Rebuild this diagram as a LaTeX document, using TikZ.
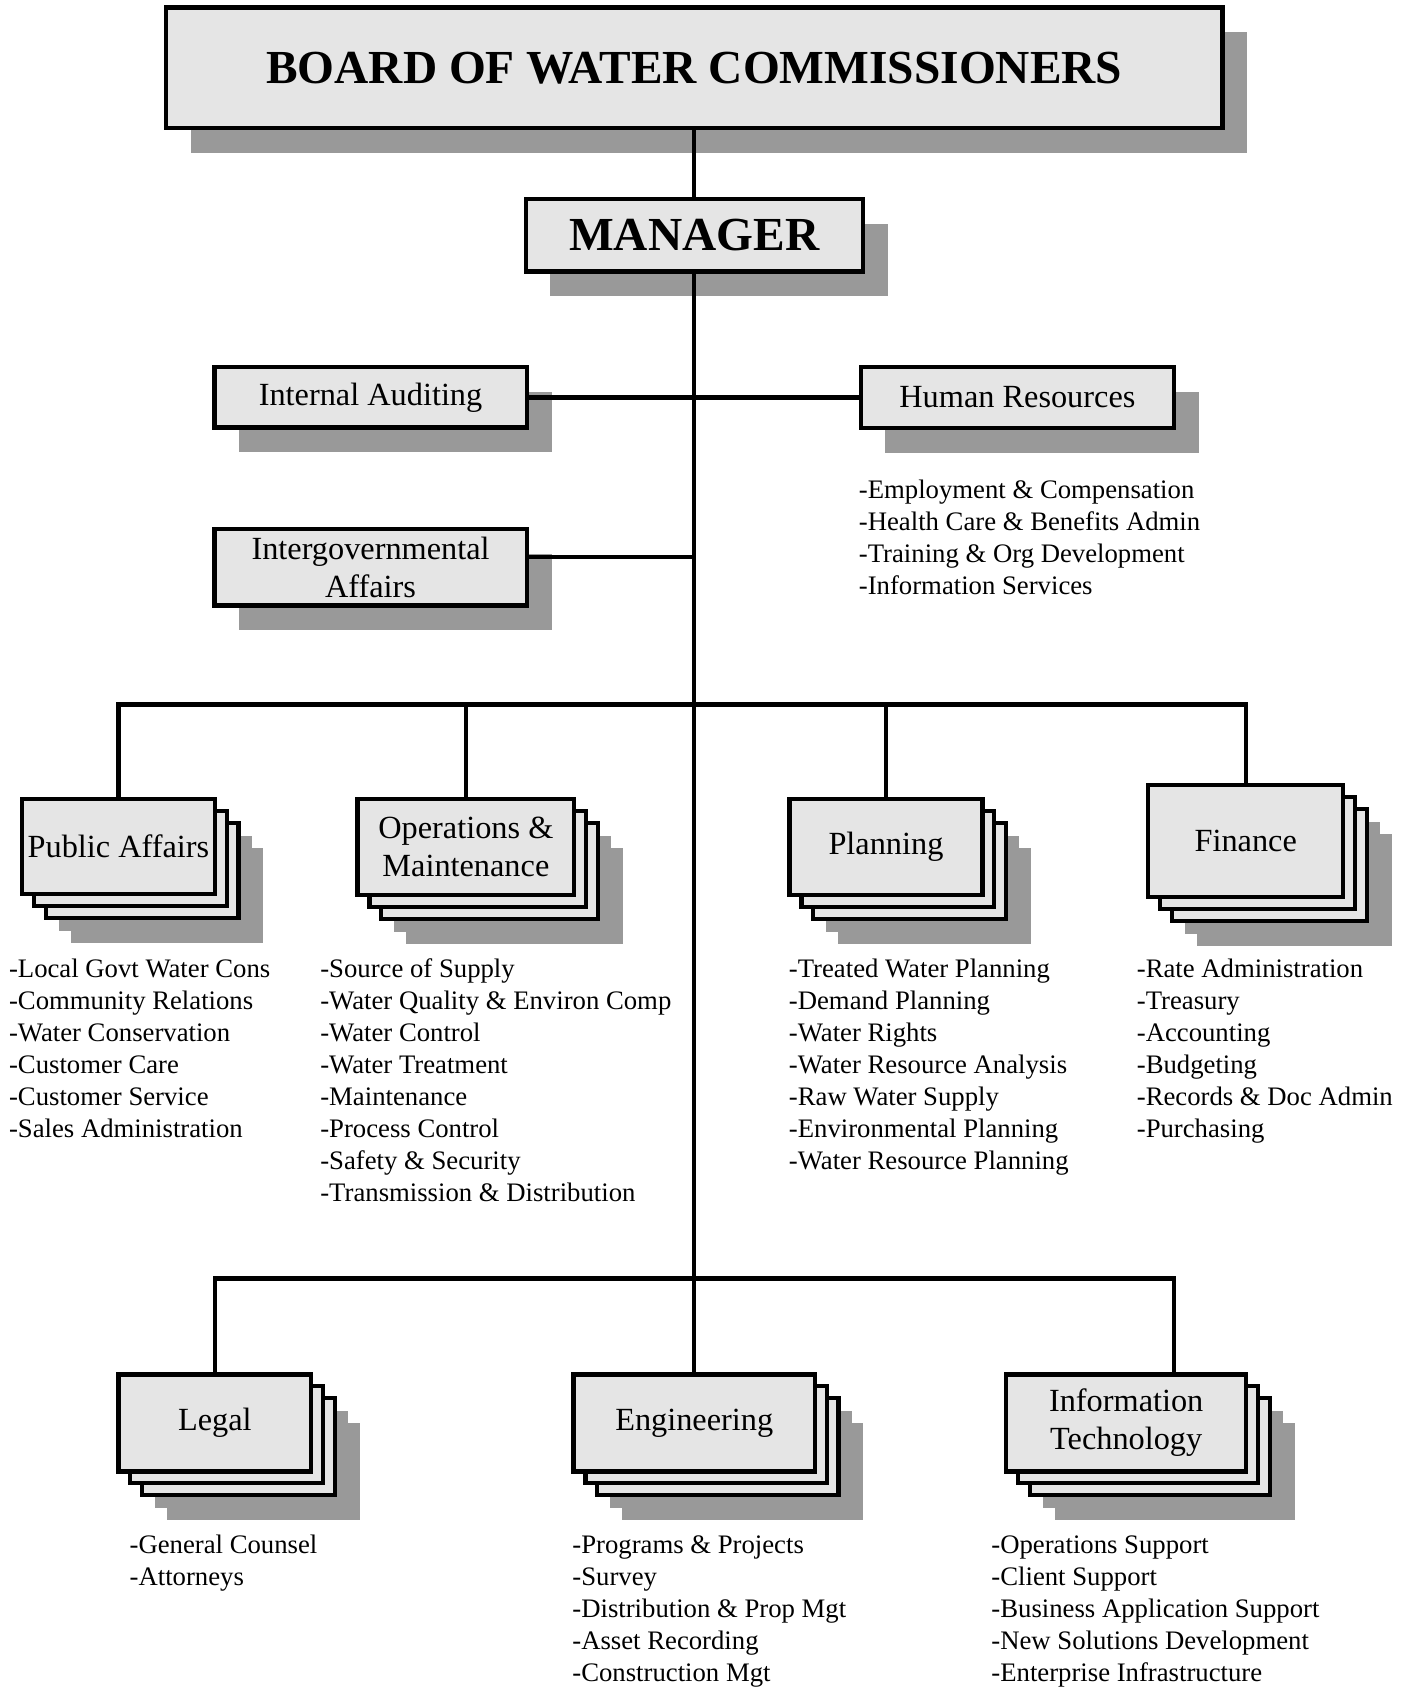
\documentclass[tikz,border=0pt]{standalone}
\usepackage{fontspec}
\setmainfont{Liberation Serif}
\usetikzlibrary{shadows}

\begin{document}
\begin{tikzpicture}[x=0.5pt,y=-0.5pt,
    box/.style={draw,line width=2pt,fill=gray!20,inner sep=1pt,align=center,font=\fontsize{15}{17.5}\selectfont},
    shadowed/.style={box,general shadow={fill=gray!80,draw=none,shadow xshift=11.5pt,shadow yshift=-11.5pt}},
    stack/.style={box,
        general shadow={fill=gray!80,draw=none,shadow xshift=22.5pt,shadow yshift=-22.5pt},
        general shadow={fill=gray!80,draw=none,shadow xshift=17pt,shadow yshift=-17pt},
        general shadow={fill=gray!80,draw=none,shadow xshift=11.5pt,shadow yshift=-11.5pt},
        general shadow={fill=gray!20,draw,line width=2pt,shadow xshift=11pt,shadow yshift=-11pt},
        general shadow={fill=gray!20,draw,line width=2pt,shadow xshift=5.5pt,shadow yshift=-5.5pt}},
    list/.style={anchor=north west,inner sep=0pt,align=left,font=\fontsize{12.4}{14.85}\selectfont},
    link/.style={line width=2pt}]
    \useasboundingbox (0,0) rectangle (1309,1568);

    \node[shadowed,font=\fontsize{22}{26}\selectfont\bfseries,minimum width=490.5pt,minimum height=56pt] (board) at (644.5,63) {BOARD OF WATER COMMISSIONERS};
    \node[shadowed,font=\fontsize{22}{26}\selectfont\bfseries,minimum width=156.5pt,minimum height=33.5pt] (manager) at (644.5,218.5) {MANAGER};

    \node[shadowed,minimum width=145pt,minimum height=28pt] (audit) at (344,369) {Internal Auditing};
    \node[shadowed,minimum width=145.5pt,minimum height=28.5pt] (hr) at (944.5,369) {Human Resources};
    \node[shadowed,minimum width=145pt,minimum height=35.5pt] (intergov) at (344,526.5) {Intergovernmental\\Affairs};

    \node[stack,minimum width=89.5pt,minimum height=44pt] (public) at (110,786) {Public Affairs};
    \node[stack,minimum width=100.5pt,minimum height=44.5pt] (ops) at (432.5,786.5) {Operations \&\\Maintenance};
    \node[stack,minimum width=89.5pt,minimum height=44.5pt] (planning) at (822.5,786.5) {Planning};
    \node[stack,minimum width=90.5pt,minimum height=52pt] (finance) at (1156.5,781) {Finance};
    \node[stack,minimum width=89.5pt,minimum height=45pt] (legal) at (199.5,1321) {Legal};
    \node[stack,minimum width=112pt,minimum height=45pt] (eng) at (644.5,1321) {Engineering};
    \node[stack,minimum width=111.5pt,minimum height=45pt] (it) at (1045.5,1321) {Information\\Technology};

    \node[list] (hrlist) at (797,445) {-Employment \& Compensation\\-Health Care \& Benefits Admin\\-Training \& Org Development\\-Information Services};
    \node[list] (publist) at (8,890) {-Local Govt Water Cons\\-Community Relations\\-Water Conservation\\-Customer Care\\-Customer Service\\-Sales Administration};
    \node[list] (opslist) at (297,890) {-Source of Supply\\-Water Quality \& Environ Comp\\-Water Control\\-Water Treatment\\-Maintenance\\-Process Control\\-Safety \& Security\\-Transmission \& Distribution};
    \node[list] (planlist) at (732,890) {-Treated Water Planning\\-Demand Planning\\-Water Rights\\-Water Resource Analysis\\-Raw Water Supply\\-Environmental Planning\\-Water Resource Planning};
    \node[list] (finlist) at (1055,890) {-Rate Administration\\-Treasury\\-Accounting\\-Budgeting\\-Records \& Doc Admin\\-Purchasing};
    \node[list] (legallist) at (120,1425) {-General Counsel\\-Attorneys};
    \node[list] (englist) at (531,1425) {-Programs \& Projects\\-Survey\\-Distribution \& Prop Mgt\\-Asset Recording\\-Construction Mgt};
    \node[list] (itlist) at (920,1425) {-Operations Support\\-Client Support\\-Business Application Support\\-New Solutions Development\\-Enterprise Infrastructure};

    \coordinate (igjoin) at (644.5,517);
    \coordinate (topbar) at (644.5,654);
    \coordinate (lowbar) at (644.5,1187);
    \coordinate (itjoin) at (1090,1276);

    \draw[link] (board) -- (manager);
    \draw[link] (manager) -- (eng);
    \draw[link] (audit) -- (hr);
    \draw[link] (igjoin -| intergov.east) -- (igjoin);
    \draw[link] (public.north) |- (topbar) -| (finance.north);
    \draw[link] (ops.north) -- (ops.north |- topbar);
    \draw[link] (planning.north) -- (planning.north |- topbar);
    \draw[link] (legal.north) |- (lowbar) -| (itjoin);
\end{tikzpicture}
\end{document}
